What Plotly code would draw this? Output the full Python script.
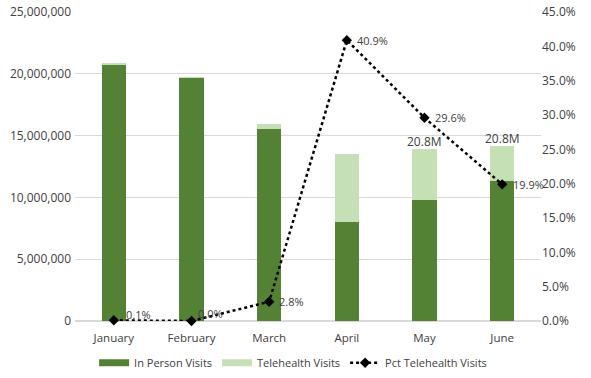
import plotly.graph_objects as go

months = ["January", "February", "March", "April", "May", "June"]
in_person = [20780000, 19700000, 15500000, 7990000, 9780000, 11320000]
telehealth = [21000, 5000, 440000, 5530000, 4110000, 2810000]
pct_tele = [0.1, 0.0, 2.8, 40.9, 29.6, 19.9]
pct_labels = ["0.1%", "0.0%", "2.8%", "40.9%", "29.6%", "19.9%"]
total_labels = ["", "", "", "", "20.8M", "20.8M"]

dark_green = "#548235"
light_green = "#C5E0B4"
font_family = "Open Sans"
txt = "#404040"

fig = go.Figure()
fig.add_trace(go.Bar(
    x=months, y=in_person, name="In Person Visits", showlegend=False,
    marker=dict(color=dark_green, line=dict(width=0)),
))
fig.add_trace(go.Bar(
    x=months, y=telehealth, name="Telehealth Visits", showlegend=False,
    marker=dict(color=light_green, line=dict(width=0)),
))
fig.add_trace(go.Scatter(
    x=months, y=pct_tele, name="Pct Telehealth Visits", yaxis="y2",
    mode="lines+markers", showlegend=False,
    line=dict(color="black", width=2.5, dash="dot"),
    marker=dict(symbol="diamond", size=8, color="black"),
    cliponaxis=False,
))
# legend entries
fig.add_trace(go.Scatter(x=[None], y=[None], mode="lines", name="In Person Visits",
                         line=dict(color=dark_green, width=7)))
fig.add_trace(go.Scatter(x=[None], y=[None], mode="lines", name="Telehealth Visits",
                         line=dict(color=light_green, width=7)))
fig.add_trace(go.Scatter(x=[None], y=[None], mode="lines+markers", name="Pct Telehealth Visits",
                         line=dict(color="black", width=2.5, dash="dot"),
                         marker=dict(symbol="diamond", size=8, color="black")))

# percentage labels
pct_shift = [(10, 6), (4, 8), (8, 0), (8, 0), (8, 0), (9, 0)]
for m, v, lab, (dx, dy) in zip(months, pct_tele, pct_labels, pct_shift):
    fig.add_annotation(x=m, y=v, yref="y2", text=lab, showarrow=False,
                       xanchor="left", yanchor="middle", xshift=dx, yshift=dy,
                       font=dict(size=11, color=txt))
# total labels
for m, a, b, lab in zip(months, in_person, telehealth, total_labels):
    if lab:
        fig.add_annotation(x=m, y=a + b, yref="y", text=lab, showarrow=False,
                           xanchor="center", yanchor="bottom", yshift=-3,
                           font=dict(size=12, color=txt))

fig.update_layout(
    width=591, height=378,
    margin=dict(l=75, r=50, t=12, b=57, autoexpand=False),
    paper_bgcolor="white", plot_bgcolor="white",
    barmode="stack", bargap=0.69,
    font=dict(family=font_family, size=12, color=txt),
    xaxis=dict(showgrid=False, showline=False, ticks="", tickfont=dict(size=11.5),
               automargin=False, ticklabelstandoff=8, range=[-0.5, 5.5]),
    yaxis=dict(range=[0, 25000000], dtick=5000000, tickformat=",d",
               showgrid=True, gridcolor="#d9d9d9", gridwidth=1,
               zeroline=True, zerolinecolor="#d9d9d9", showline=False,
               tickfont=dict(size=12), ticklabelstandoff=3, automargin=False),
    yaxis2=dict(range=[0, 45], dtick=5, tickformat=".1f", ticksuffix="%",
                overlaying="y", side="right", showgrid=False, zeroline=False,
                showline=False, tickfont=dict(size=12), automargin=False),
    legend=dict(orientation="h", x=0.041, xanchor="left", y=-0.135, yanchor="middle",
                font=dict(size=11), traceorder="normal", itemwidth=30),
    showlegend=True,
)

fig.write_html("out.html", config={"displayModeBar": False},
               post_script="document.body.style.margin='0';document.body.style.padding='0';")
